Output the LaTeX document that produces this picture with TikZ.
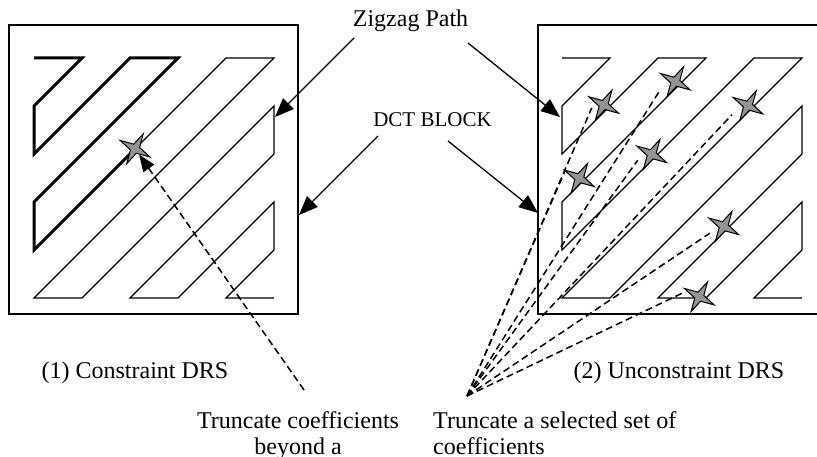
\documentclass[tikz,border=0pt]{standalone}
\usepackage{fontspec}
\setmainfont{Liberation Serif}
\usetikzlibrary{arrows.meta,shapes.geometric,calc}
\definecolor{starfill}{gray}{0.58}
\pgfdeclarelayer{background}
\pgfsetlayers{background,main}
\begin{document}
\begin{tikzpicture}[x=1pt,y=-1pt,
  block/.style={line width=2pt},
  zz/.style={line width=1.3pt},
  zzbold/.style={line width=3pt},
  pointer/.style={line width=1.3pt,-{Triangle[length=19pt,width=15pt]}},
  trunc/.style={line width=1.5pt,dash pattern=on 7pt off 4pt},
  truncarrow/.style={trunc,-{Triangle[length=17pt,width=13pt]}},
  coef/.style={star,star points=4,star point ratio=3.6,minimum size=34pt,
    inner sep=0pt,shape border rotate=-29,draw,line width=1pt,fill=starfill},
  lbl/.style={font=\fontsize{24}{26}\selectfont,inner sep=0pt}]
\clip (0,0) rectangle (817,457);

% coefficient markers
\node[coef] (s0) at (135,148.7) {};
\node[coef] (s1) at (603.7,105) {};
\node[coef] (s2) at (675.3,81.7) {};
\node[coef] (s3) at (748,105.7) {};
\node[coef] (s4) at (651.7,154.3) {};
\node[coef] (s5) at (579.3,178.3) {};
\node[coef] (s6) at (723.7,226.3) {};
\node[coef] (s7) at (699.3,296.7) {};

\begin{pgfonlayer}{background}
% DCT blocks
\draw[block] (9,25.5) rectangle (298,313.5);
\draw[block] (537.5,25.5) rectangle (827,313.5);
% zigzag scan, constrained block
\begin{scope}[shift={(34,58)},x=48pt,y=-48pt]
  \draw[zz] (0,0)--(1,0)--(0,1)--(0,2)--(2,0)--(3,0)--(0,3)--(0,4)--(4,0)--(5,0)
    --(0,5)--(1,5)--(5,1)--(5,2)--(2,5)--(3,5)--(5,3)--(5,4)--(4,5)--(5,5);
  \draw[zzbold] (0,0)--(1,0)--(0,1)--(0,2)--(2,0)--(3,0)--(0,3)--(0,4)--(2.1,1.9);
\end{scope}
% zigzag scan, unconstrained block
\begin{scope}[shift={(562,58)},x=48pt,y=-48pt]
  \draw[zz] (0,0)--(1,0)--(0,1)--(0,2)--(2,0)--(3,0)--(0,3)--(0,4)--(4,0)--(5,0)
    --(0,5)--(1,5)--(5,1)--(5,2)--(2,5)--(3,5)--(5,3)--(5,4)--(4,5)--(5,5);
\end{scope}
% selected coefficients, each line ending under the lower left of its star
\coordinate (fan) at (467,396);
\foreach \s/\dx/\dy in {s1/-12/3,s2/-15/8,s3/-16/9,s4/-14/6,s5/-14/-8,s6/-14/7,s7/-16/-4}
  \draw[trunc] (fan) -- ($(\s.center)+(\dx,\dy)$);
\end{pgfonlayer}

% labels
\node[lbl,anchor=base] (zig) at (410.5,26.7) {Zigzag Path};
\node[lbl,anchor=base,font=\fontsize{21}{24}\selectfont] (dct) at (432.5,126.7) {DCT BLOCK};
\node[lbl,anchor=base] (cap1) at (135,378) {(1) Constraint DRS};
\node[lbl,anchor=base] (cap2) at (679,378) {(2) Unconstraint DRS};
\node[lbl,anchor=north,align=center] (tr1) at (298,411.5)
  {Truncate coefficients\\beyond a};
\node[lbl,anchor=north west,align=left] (tr2) at (433,411.5)
  {Truncate a selected set of\\coefficients};

% pointers
\coordinate (zigL) at (354,38);
\coordinate (zigR) at (468,43);
\coordinate (dctL) at (378,136);
\coordinate (dctR) at (448,141);
\coordinate (zigLtip) at (275,117);
\coordinate (zigRtip) at (560,117);
\coordinate (dctLtip) at (299,215);
\coordinate (dctRtip) at (538,213);
\draw[pointer] (zigL) -- (zigLtip);
\draw[pointer] (zigR) -- (zigRtip);
\draw[pointer] (dctL) -- (dctLtip);
\draw[pointer] (dctR) -- (dctRtip);

% cut-off point of the constrained scan
\coordinate (cut) at (304,390);
\draw[truncarrow] (cut) -- (s0);
\end{tikzpicture}
\end{document}
